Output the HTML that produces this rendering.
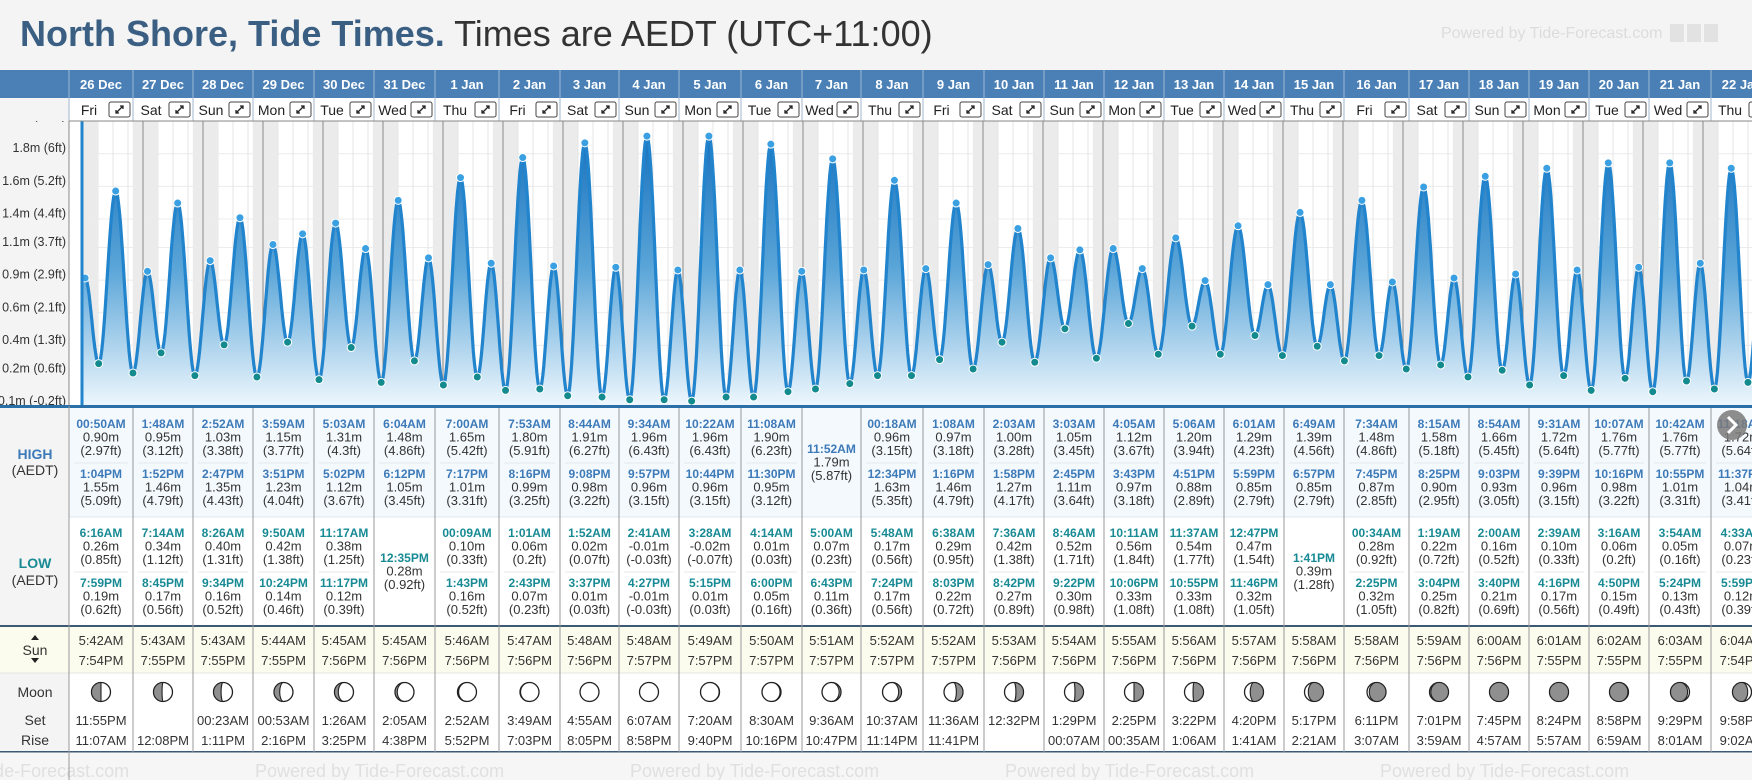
<!DOCTYPE html>
<html><head><meta charset="utf-8">
<style>
html,body{margin:0;padding:0;background:#f4f4f4;width:1752px;height:780px;overflow:hidden}
svg{display:block;font-family:"Liberation Sans",sans-serif}
</style></head>
<body>
<svg id="root" width="1752" height="780" viewBox="0 0 1752 780" xmlns="http://www.w3.org/2000/svg">
<defs>
<linearGradient id="fillGrad" gradientUnits="userSpaceOnUse" x1="0" y1="130" x2="0" y2="406">
<stop offset="0" stop-color="#1670bd"/><stop offset="0.5" stop-color="#5aa5d8"/><stop offset="1" stop-color="#eef7fd"/>
</linearGradient>
<clipPath id="chartClip"><rect x="82" y="121" width="1670" height="285"/></clipPath>
<clipPath id="axisClip"><rect x="0" y="121" width="69" height="285"/></clipPath>
</defs>
<rect x="0" y="0" width="1752" height="780" fill="#f4f4f4"/>
<text x="20" y="46" font-size="36" fill="#3a5f82" font-weight="bold">North Shore, Tide Times.<tspan fill="#333" font-weight="normal"> Times are AEDT (UTC+11:00)</tspan></text>
<text x="1441" y="38" font-size="16" fill="#dcdcdc">Powered by Tide-Forecast.com</text>
<rect x="1670" y="24" width="14" height="18" fill="#e2e2e2"/>
<rect x="1687" y="24" width="14" height="18" fill="#e2e2e2"/>
<rect x="1704" y="24" width="14" height="18" fill="#e2e2e2"/>
<g id="layer"></g>
</svg>
<script>
const days=["26 Dec","27 Dec","28 Dec","29 Dec","30 Dec","31 Dec","1 Jan","2 Jan","3 Jan","4 Jan","5 Jan","6 Jan","7 Jan","8 Jan","9 Jan","10 Jan","11 Jan","12 Jan","13 Jan","14 Jan","15 Jan","16 Jan","17 Jan","18 Jan","19 Jan","20 Jan","21 Jan","22 Jan"];
const dayNames=["Fri","Sat","Sun","Mon","Tue","Wed","Thu","Fri","Sat","Sun","Mon","Tue","Wed","Thu","Fri","Sat","Sun","Mon","Tue","Wed","Thu","Fri","Sat","Sun","Mon","Tue","Wed","Thu"];
const highT=[["00:50AM","1:04PM"],["1:48AM","1:52PM"],["2:52AM","2:47PM"],["3:59AM","3:51PM"],["5:03AM","5:02PM"],["6:04AM","6:12PM"],["7:00AM","7:17PM"],["7:53AM","8:16PM"],["8:44AM","9:08PM"],["9:34AM","9:57PM"],["10:22AM","10:44PM"],["11:08AM","11:30PM"],["11:52AM"],["00:18AM","12:34PM"],["1:08AM","1:16PM"],["2:03AM","1:58PM"],["3:03AM","2:45PM"],["4:05AM","3:43PM"],["5:06AM","4:51PM"],["6:01AM","5:59PM"],["6:49AM","6:57PM"],["7:34AM","7:45PM"],["8:15AM","8:25PM"],["8:54AM","9:03PM"],["9:31AM","9:39PM"],["10:07AM","10:16PM"],["10:42AM","10:55PM"],["11:18AM","11:37PM"]];
const highM=[[0.90,1.55],[0.95,1.46],[1.03,1.35],[1.15,1.23],[1.31,1.12],[1.48,1.05],[1.65,1.01],[1.80,0.99],[1.91,0.98],[1.96,0.96],[1.96,0.96],[1.90,0.95],[1.79],[0.96,1.63],[0.97,1.46],[1.00,1.27],[1.05,1.11],[1.12,0.97],[1.20,0.88],[1.29,0.85],[1.39,0.85],[1.48,0.87],[1.58,0.90],[1.66,0.93],[1.72,0.96],[1.76,0.98],[1.76,1.01],[1.72,1.04]];
const highFt=[["2.97ft","5.09ft"],["3.12ft","4.79ft"],["3.38ft","4.43ft"],["3.77ft","4.04ft"],["4.3ft","3.67ft"],["4.86ft","3.45ft"],["5.42ft","3.31ft"],["5.91ft","3.25ft"],["6.27ft","3.22ft"],["6.43ft","3.15ft"],["6.43ft","3.15ft"],["6.23ft","3.12ft"],["5.87ft"],["3.15ft","5.35ft"],["3.18ft","4.79ft"],["3.28ft","4.17ft"],["3.45ft","3.64ft"],["3.67ft","3.18ft"],["3.94ft","2.89ft"],["4.23ft","2.79ft"],["4.56ft","2.79ft"],["4.86ft","2.85ft"],["5.18ft","2.95ft"],["5.45ft","3.05ft"],["5.64ft","3.15ft"],["5.77ft","3.22ft"],["5.77ft","3.31ft"],["5.64ft","3.41ft"]];
const lowT=[["6:16AM","7:59PM"],["7:14AM","8:45PM"],["8:26AM","9:34PM"],["9:50AM","10:24PM"],["11:17AM","11:17PM"],["12:35PM"],["00:09AM","1:43PM"],["1:01AM","2:43PM"],["1:52AM","3:37PM"],["2:41AM","4:27PM"],["3:28AM","5:15PM"],["4:14AM","6:00PM"],["5:00AM","6:43PM"],["5:48AM","7:24PM"],["6:38AM","8:03PM"],["7:36AM","8:42PM"],["8:46AM","9:22PM"],["10:11AM","10:06PM"],["11:37AM","10:55PM"],["12:47PM","11:46PM"],["1:41PM"],["00:34AM","2:25PM"],["1:19AM","3:04PM"],["2:00AM","3:40PM"],["2:39AM","4:16PM"],["3:16AM","4:50PM"],["3:54AM","5:24PM"],["4:33AM","5:59PM"]];
const lowM=[[0.26,0.19],[0.34,0.17],[0.40,0.16],[0.42,0.14],[0.38,0.12],[0.28],[0.10,0.16],[0.06,0.07],[0.02,0.01],[-0.01,-0.01],[-0.02,0.01],[0.01,0.05],[0.07,0.11],[0.17,0.17],[0.29,0.22],[0.42,0.27],[0.52,0.30],[0.56,0.33],[0.54,0.33],[0.47,0.32],[0.39],[0.28,0.32],[0.22,0.25],[0.16,0.21],[0.10,0.17],[0.06,0.15],[0.05,0.13],[0.07,0.12]];
const lowFt=[["0.85ft","0.62ft"],["1.12ft","0.56ft"],["1.31ft","0.52ft"],["1.38ft","0.46ft"],["1.25ft","0.39ft"],["0.92ft"],["0.33ft","0.52ft"],["0.2ft","0.23ft"],["0.07ft","0.03ft"],["-0.03ft","-0.03ft"],["-0.07ft","0.03ft"],["0.03ft","0.16ft"],["0.23ft","0.36ft"],["0.56ft","0.56ft"],["0.95ft","0.72ft"],["1.38ft","0.89ft"],["1.71ft","0.98ft"],["1.84ft","1.08ft"],["1.77ft","1.08ft"],["1.54ft","1.05ft"],["1.28ft"],["0.92ft","1.05ft"],["0.72ft","0.82ft"],["0.52ft","0.69ft"],["0.33ft","0.56ft"],["0.2ft","0.49ft"],["0.16ft","0.43ft"],["0.23ft","0.39ft"]];
const sunRise=["5:42AM","5:43AM","5:43AM","5:44AM","5:45AM","5:45AM","5:46AM","5:47AM","5:48AM","5:48AM","5:49AM","5:50AM","5:51AM","5:52AM","5:52AM","5:53AM","5:54AM","5:55AM","5:56AM","5:57AM","5:58AM","5:58AM","5:59AM","6:00AM","6:01AM","6:02AM","6:03AM","6:04AM"];
const sunSet=["7:54PM","7:55PM","7:55PM","7:55PM","7:56PM","7:56PM","7:56PM","7:56PM","7:56PM","7:57PM","7:57PM","7:57PM","7:57PM","7:57PM","7:57PM","7:56PM","7:56PM","7:56PM","7:56PM","7:56PM","7:56PM","7:56PM","7:56PM","7:56PM","7:55PM","7:55PM","7:55PM","7:54PM"];
const moonSet=["11:55PM","","00:23AM","00:53AM","1:26AM","2:05AM","2:52AM","3:49AM","4:55AM","6:07AM","7:20AM","8:30AM","9:36AM","10:37AM","11:36AM","12:32PM","1:29PM","2:25PM","3:22PM","4:20PM","5:17PM","6:11PM","7:01PM","7:45PM","8:24PM","8:58PM","9:29PM","9:58PM"];
const moonRise=["11:07AM","12:08PM","1:11PM","2:16PM","3:25PM","4:38PM","5:52PM","7:03PM","8:05PM","8:58PM","9:40PM","10:16PM","10:47PM","11:14PM","11:41PM","","00:07AM","00:35AM","1:06AM","1:41AM","2:21AM","3:07AM","3:59AM","4:57AM","5:57AM","6:59AM","8:01AM","9:02AM"];
const moonLit=[0.5,0.45,0.4,0.3,0.2,0.12,0.06,0.03,0,0,0.02,0.05,0.1,0.15,0.35,0.4,0.45,0.5,0.55,0.7,0.8,0.88,0.93,1,1,0.97,0.9,0.8];
const moonSide=["L","L","L","L","L","L","L","L","L","L","R","R","R","R","R","R","R","R","R","R","R","R","R","R","R","L","L","L"];
const tickFt=[-0.2,0.6,1.3,2.1,2.9,3.7,4.4,5.2,6.0,6.8];
const tickM=["-0.1m","0.2m","0.4m","0.6m","0.9m","1.1m","1.4m","1.6m","1.8m","2.1m"];
const tickFtLbl=["-0.2ft","0.6ft","1.3ft","2.1ft","2.9ft","3.7ft","4.4ft","5.2ft","6ft","6.8ft"];

const NS="http://www.w3.org/2000/svg";
const L=document.getElementById('layer');
const colB=[69,133,193,253,314,374,435,499,560,619,679,741,802,861,923,984,1044,1104,1164,1224,1284,1344,1409,1469,1529,1589,1649,1711,1773];
const X0=83, DW=60;
function xOf(d,h){return X0+(d+h/24)*DW;}
function yOf(v){return 398.4-133.8*v;}
function hrs(s){const m=s.match(/(\d+):(\d+)(AM|PM)/);let h=+m[1]%12;if(m[3]==="PM")h+=12;return h+ +m[2]/60;}
function mk(tag,a,p){const e=document.createElementNS(NS,tag);for(const k in a)e.setAttribute(k,a[k]);(p||L).appendChild(e);return e;}
function tx(x,y,s,size,fill,weight,anchor,p){const e=mk('text',{x:x,y:y,'font-size':size,fill:fill,'font-weight':weight||'normal','text-anchor':anchor||'middle'},p);e.textContent=s;return e;}
let el;

el=mk('rect',{x:0,y:70,width:1752,height:28,fill:'#4a80b6'});


el=mk('rect',{x:69,y:98,width:1683,height:23,fill:'#fff'});


el=mk('rect',{x:69,y:121,width:1683,height:285,fill:'#fff'});


const cg=mk('g',{'clip-path':'url(#chartClip)'});
for(let d=-1;d<days.length;d++){
  const x1=d<0?X0-20:xOf(d,hrs(sunSet[d]));
  const rise=d+1<days.length?xOf(d+1,hrs(sunRise[d+1])):xOf(d+1,6);
  el=mk('rect',{x:x1,y:121,width:rise-x1,height:285,fill:'#ebebeb'},cg);
  
  
}
for(let i=0;i<tickFt.length;i++){
  const y=yOf(tickFt[i]/3.2808);
  el=mk('line',{x1:82,x2:1752,y1:y,y2:y,stroke:'#ececec','stroke-width':1},cg);
  
  
}
for(let d=0;d<=days.length;d++){
  for(let q=1;q<4;q++){
    const x=xOf(d,q*6);
    el=mk('line',{x1:x,x2:x,y1:121,y2:406,stroke:'#e4e4e4','stroke-width':1},cg);
    
    
  }
  const x=xOf(d,0);
  el=mk('line',{x1:x,x2:x,y1:121,y2:406,stroke:'#8a8a8a','stroke-width':1},cg);
  
  
}
const ext=[];
for(let d=0;d<days.length;d++){
  highT[d].forEach((t,i)=>ext.push({t:d*24+hrs(t),v:highM[d][i],hi:true}));
  lowT[d].forEach((t,i)=>ext.push({t:d*24+hrs(t),v:lowM[d][i],hi:false}));
}
ext.sort((a,b)=>a.t-b.t);
let pts=[[82,yOf(ext[0].v)]];
for(let k=0;k<ext.length-1;k++){
  const a=ext[k],b=ext[k+1];
  const xa=X0+a.t/24*DW, xb=X0+b.t/24*DW;
  const n=Math.max(4,Math.ceil(xb-xa));
  for(let j=0;j<=n;j++){const u=j/n;const v=a.v+(b.v-a.v)*(1-Math.cos(Math.PI*u))/2;pts.push([xa+(xb-xa)*u,yOf(v)]);}
}
const dLine='M'+pts.map(p=>p[0].toFixed(1)+','+p[1].toFixed(1)).join('L');
el=mk('path',{d:dLine+'L'+pts[pts.length-1][0].toFixed(1)+',406L82,406Z',fill:'url(#fillGrad)'},cg);


el=mk('path',{d:dLine,fill:'none',stroke:'#2184cc','stroke-width':3.2,'stroke-linejoin':'round'},cg);


ext.forEach(e=>{
  const c=mk('circle',{cx:X0+e.t/24*DW,cy:yOf(e.v),r:4,fill:e.hi?'#3aa0e2':'#138a8e',stroke:'#fff','stroke-width':1},cg);
  
  
});
el=mk('line',{x1:82,x2:82,y1:121,y2:406,stroke:'#2184cc','stroke-width':3});


el=mk('line',{x1:69,x2:69,y1:98,y2:406,stroke:'#888','stroke-width':1});


const ag=mk('g',{'clip-path':'url(#axisClip)'});
for(let i=0;i<tickFt.length;i++){
  const y=yOf(tickFt[i]/3.2808)-1.5;
  el=tx(66,y,tickM[i]+' ('+tickFtLbl[i]+')',12.5,'#333','normal','end',ag);
  
  
}
for(let d=0;d<days.length;d++){
  const l=colB[d],r=colB[d+1],c=(l+r)/2;
  el=tx(c,89,days[d],13,'#fff','bold');
  
  
  el=mk('line',{x1:l,x2:l,y1:70,y2:121,stroke:'#9fb8d2','stroke-width':1});
  
  
  el=tx((l+r-24)/2,115,dayNames[d],14,'#222','normal');
  
  
  const bx=r-24;
  el=mk('rect',{x:bx,y:102,width:21,height:15,rx:2,fill:'#fff',stroke:'#444','stroke-width':1});
  
  
  el=mk('path',{d:`M${bx+7},${113}L${bx+14},${106}M${bx+11},${106}h3v3M${bx+7},${110}v3h3`,stroke:'#222','stroke-width':1.3,fill:'none'});
  
  
}
el=mk('line',{x1:69,x2:1752,y1:121,y2:121,stroke:'#888','stroke-width':1});



el=mk('rect',{x:0,y:406,width:69,height:346,fill:'#f4f4f4'});


el=mk('rect',{x:69,y:408,width:1683,height:109,fill:'#f4f9fe'});


el=mk('rect',{x:69,y:517,width:1683,height:109,fill:'#fff'});


el=mk('rect',{x:0,y:627,width:1752,height:46,fill:'#fcfcee'});


el=mk('rect',{x:69,y:673,width:1683,height:79,fill:'#fff'});


el=mk('rect',{x:0,y:673,width:69,height:79,fill:'#f4f4f4'});


el=mk('rect',{x:0,y:753,width:1752,height:27,fill:'#f6f6f6'});


for(let i=0;i<5;i++){
  el=tx(-120+i*375,777,'Powered by Tide-Forecast.com',18,'#e0e0e0','normal','start');
  
  
}
el=mk('rect',{x:0,y:405,width:1752,height:3,fill:'#2a6fa8'});


el=mk('line',{x1:69,x2:1752,y1:517,y2:517,stroke:'#e2e8ee','stroke-width':1});


el=mk('rect',{x:0,y:625,width:1752,height:2,fill:'#3d5a74'});


el=mk('line',{x1:0,x2:1752,y1:673,y2:673,stroke:'#e4e4e4','stroke-width':1});


el=mk('rect',{x:0,y:751,width:1752,height:1.5,fill:'#3d5a74'});



el=tx(35,459,'HIGH',14,'#3d7ab8','bold');


el=tx(35,475,'(AEDT)',14,'#333','normal');


el=tx(35,568,'LOW',14,'#178a94','bold');


el=tx(35,585,'(AEDT)',14,'#333','normal');


el=tx(35,655,'Sun',14,'#333','normal');


el=mk('path',{d:'M31,640L35,635L39,640ZM31,658L39,658L35,663Z',fill:'#222'});


el=tx(35,697,'Moon',14,'#333','normal');


el=tx(35,725,'Set',14,'#333','normal');


el=tx(35,745,'Rise',14,'#333','normal');



function entry(c,yTop,t,m,ft,col,name){
  el=tx(c,yTop,t,12,col,'bold');
  
  
  el=tx(c,yTop+13.5,m.toFixed(2)+'m',13,'#333','normal');
  
  
  el=tx(c,yTop+27,'('+ft+')',13,'#333','normal');
  
  
}
for(let d=0;d<days.length;d++){
  const l=colB[d],r=colB[d+1],c=(l+r)/2;
  el=mk('line',{x1:l,x2:l,y1:408,y2:752,stroke:'#999','stroke-width':1});
  
  
  if(highT[d].length===2){
    entry(c,428,highT[d][0],highM[d][0],highFt[d][0],'#3d7ab8','high-tide');
    entry(c,478,highT[d][1],highM[d][1],highFt[d][1],'#3d7ab8','high-tide');
    el=mk('line',{x1:l+5,x2:r-5,y1:463,y2:463,stroke:'#e4e9ef','stroke-width':1});
    
    
  } else entry(c,453,highT[d][0],highM[d][0],highFt[d][0],'#3d7ab8','high-tide');
  if(lowT[d].length===2){
    entry(c,537,lowT[d][0],lowM[d][0],lowFt[d][0],'#178a94','low-tide');
    entry(c,587,lowT[d][1],lowM[d][1],lowFt[d][1],'#178a94','low-tide');
    el=mk('line',{x1:l+5,x2:r-5,y1:572,y2:572,stroke:'#eaeaea','stroke-width':1});
    
    
  } else entry(c,562,lowT[d][0],lowM[d][0],lowFt[d][0],'#178a94','low-tide');
  el=tx(c,645,sunRise[d],13,'#333','normal');
  
  
  el=tx(c,665,sunSet[d],13,'#333','normal');
  
  
  const cy=692,R=9.5,f=moonLit[d];
  el=mk('circle',{cx:c,cy:cy,r:R,fill:'#fff',stroke:'#222','stroke-width':1.3});
  
  
  if(f>0.005){
    const s=moonSide[d]==='R'?1:-1;
    const rx=Math.abs(1-2*f)*R;
    const sweepOuter=s===1?1:0;
    const sweepInner=(f<0.5)?(s===1?0:1):(s===1?1:0);
    let dd;
    if(f>=0.995) dd=`M${c},${cy-R}A${R},${R} 0 1 1 ${c},${cy+R}A${R},${R} 0 1 1 ${c},${cy-R}Z`;
    else dd=`M${c},${cy-R}A${R},${R} 0 0 ${sweepOuter} ${c},${cy+R}A${rx},${R} 0 0 ${sweepInner} ${c},${cy-R}Z`;
    el=mk('path',{d:dd,fill:'#8f8f8f',stroke:'#222','stroke-width':1.1});
    
    
  }
  el=tx(c,725,moonSet[d],13,'#333','normal');
  
  
  el=tx(c,745,moonRise[d],13,'#333','normal');
  
  
}
el=mk('line',{x1:69,x2:69,y1:406,y2:780,stroke:'#999','stroke-width':1});


el=mk('circle',{cx:1732,cy:425,r:15,fill:'#7a7a7a','fill-opacity':0.85});


el=mk('path',{d:'M1728,417L1736,425L1728,433',stroke:'#fff','stroke-width':3,fill:'none'});


</script>
</body></html>
